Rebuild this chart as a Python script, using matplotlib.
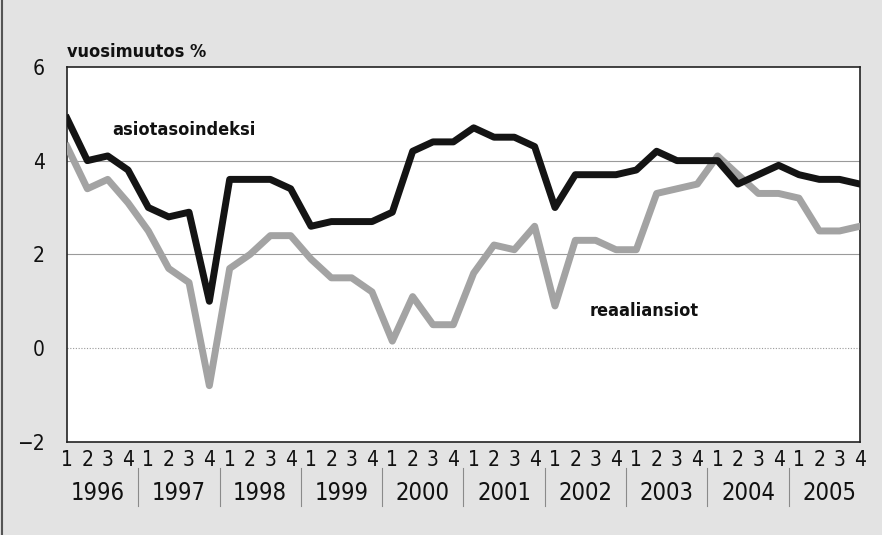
import numpy as np
import matplotlib
matplotlib.use("Agg")
import matplotlib.pyplot as plt
import matplotlib.transforms as mtransforms
from matplotlib.lines import Line2D

plt.rcParams["font.family"] = ["DejaVu Sans"]
plt.rcParams["font.stretch"] = "condensed"

years = ["1996", "1997", "1998", "1999", "2000", "2001", "2002", "2003", "2004", "2005"]
quarters = ["1", "2", "3", "4"]

# annual change %, quarterly 1996Q1 .. 2005Q4
asiotasoindeksi = [
    4.9, 4.0, 4.1, 3.8, 3.0, 2.8, 2.9, 1.0,
    3.6, 3.6, 3.6, 3.4, 2.6, 2.7, 2.7, 2.7,
    2.9, 4.2, 4.4, 4.4, 4.7, 4.5, 4.5, 4.3,
    3.0, 3.7, 3.7, 3.7, 3.8, 4.2, 4.0, 4.0,
    4.0, 3.5, 3.7, 3.9, 3.7, 3.6, 3.6, 3.5,
]
reaaliansiot = [
    4.3, 3.4, 3.6, 3.1, 2.5, 1.7, 1.4, -0.8,
    1.7, 2.0, 2.4, 2.4, 1.9, 1.5, 1.5, 1.2,
    0.15, 1.1, 0.5, 0.5, 1.6, 2.2, 2.1, 2.6,
    0.9, 2.3, 2.3, 2.1, 2.1, 3.3, 3.4, 3.5,
    4.1, 3.7, 3.3, 3.3, 3.2, 2.5, 2.5, 2.6,
]

bg = "#e3e3e3"
fig = plt.figure(figsize=(8.82, 5.35), dpi=100, facecolor=bg)
ax = fig.add_axes([0.076, 0.174, 0.899, 0.701])
ax.set_facecolor("white")

x = np.arange(len(asiotasoindeksi))
ax.plot(x, reaaliansiot, color="#a3a3a3", linewidth=5, solid_joinstyle="round", zorder=3)
ax.plot(x, asiotasoindeksi, color="#141414", linewidth=5, solid_joinstyle="round", zorder=4)

ax.set_xlim(0, len(x) - 1)
ax.set_ylim(-2, 6)
ax.set_yticks([-2, 0, 2, 4, 6])
ax.set_yticklabels(["\u22122", "0", "2", "4", "6"])
ax.axhline(4, color="#9a9a9a", linewidth=0.8, zorder=1)
ax.axhline(2, color="#9a9a9a", linewidth=0.8, zorder=1)
ax.axhline(0, color="#9a9a9a", linewidth=0.8, linestyle=(0, (1, 1.5)), zorder=1)

ax.set_xticks(x)
ax.set_xticklabels(quarters * len(years))
ax.tick_params(axis="x", length=0, pad=6, labelsize=15)
ax.tick_params(axis="y", length=0, pad=16, labelsize=15)
for lab in ax.get_xticklabels() + ax.get_yticklabels():
    lab.set_color("#111111")

for sp in ax.spines.values():
    sp.set_linewidth(1.2)
    sp.set_color("#222222")

trans = mtransforms.blended_transform_factory(ax.transData, ax.transAxes)
for k, yr in enumerate(years):
    ax.text(4 * k + 1.5, -0.135, yr, transform=trans, ha="center", va="center",
            fontsize=17, color="#111111")
    if k > 0:
        ax.plot([4 * k - 0.5, 4 * k - 0.5], [-0.07, -0.17], transform=trans,
                color="#8a8a8a", linewidth=0.8, clip_on=False)

ax.text(0, 6.2, "vuosimuutos %", fontsize=13, fontweight="bold", ha="left",
        va="baseline", color="#111111")
ax.text(2.2, 4.65, "asiotasoindeksi", fontsize=13, fontweight="bold", ha="left",
        va="center", color="#111111")
ax.text(28.4, 0.8, "reaaliansiot", fontsize=13, fontweight="bold", ha="center",
        va="center", color="#111111")

# thin dark edge on the left of the page
fig.add_artist(Line2D([0.002, 0.002], [0, 1], color="#555555", linewidth=1.5))

fig.savefig("out.png", dpi=100, facecolor=bg)
